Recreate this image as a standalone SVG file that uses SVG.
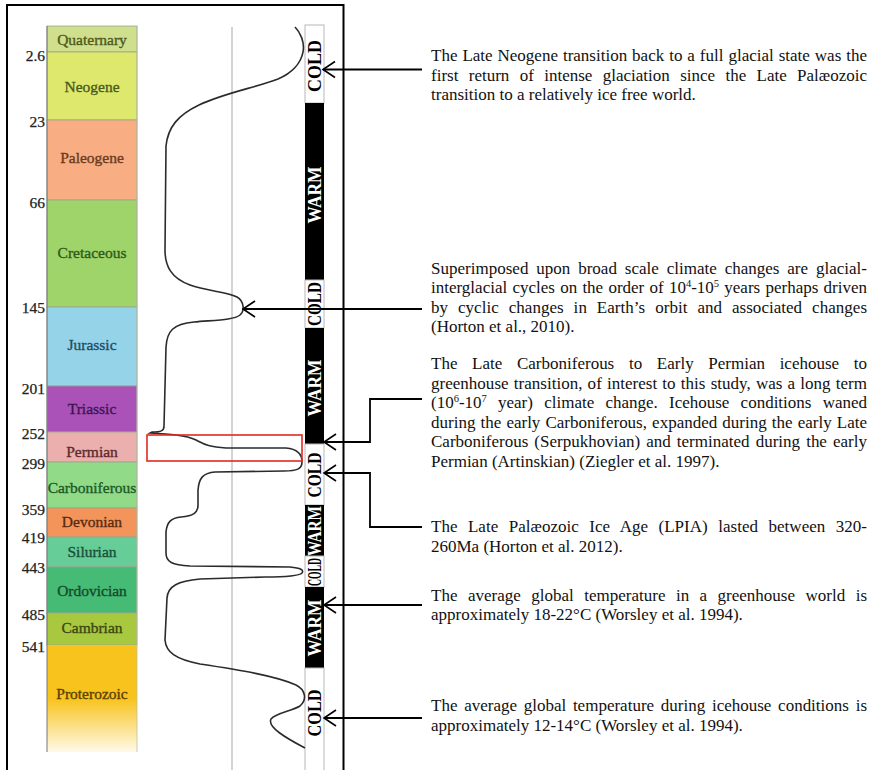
<svg xmlns="http://www.w3.org/2000/svg" width="876" height="770" viewBox="0 0 876 770">
<defs>
<style>
.per{stroke:#9aa58a;stroke-width:0.8}
.pl{font-family:"Liberation Serif","Times New Roman",serif;font-size:15.5px;text-anchor:middle;stroke-width:0.35;paint-order:stroke}
.age{font-family:"Liberation Serif","Times New Roman",serif;font-size:15.5px;text-anchor:end;fill:#222;stroke:#222;stroke-width:0.25}
.note{font-family:"Liberation Serif","Times New Roman",serif;font-size:17px;fill:#111}
.sup{font-size:10.5px}
.cold{fill:#fff;stroke:#b8b8b8;stroke-width:1}
.warm{fill:#000}
.bl{font-family:"Liberation Serif","Times New Roman",serif;font-weight:bold;font-size:18px;text-anchor:middle}
.conn{fill:none;stroke:#000;stroke-width:1.8}
</style>
<linearGradient id="prot" x1="0" y1="0" x2="0" y2="1">
<stop offset="0" stop-color="#f8c31c"/>
<stop offset="0.5" stop-color="#f8c31c"/>
<stop offset="1" stop-color="#fffaea"/>
</linearGradient>
<marker id="arr" markerWidth="16" markerHeight="20" refX="14" refY="10" orient="auto" markerUnits="userSpaceOnUse" viewBox="0 0 16 20">
<path d="M2,2 L14,10 L2,18" fill="none" stroke="#000" stroke-width="1.6"/>
</marker>
</defs>
<rect width="876" height="770" fill="#fff"/>

<g id="frame">
<path d="M7,770 V5 H343.5 V770" fill="none" stroke="#000" stroke-width="2"/>
<line x1="232" y1="27" x2="232" y2="770" stroke="#c4c4c4" stroke-width="1.5"/>
</g>

<g id="timescale">
<g id="quaternary"><rect class="per" x="47" y="26" width="90" height="26" fill="#cfdf8e"/><text class="pl" x="92" y="45" fill="#4b5a1b" stroke="#4b5a1b">Quaternary</text></g>
<g id="neogene"><rect class="per" x="47" y="52" width="90" height="68" fill="#dde86c"/><text class="pl" x="92" y="92" fill="#4a5a20" stroke="#4a5a20">Neogene</text></g>
<g id="paleogene"><rect class="per" x="47" y="120" width="90" height="80" fill="#f8ad83"/><text class="pl" x="92" y="163" fill="#6a3b1e" stroke="#6a3b1e">Paleogene</text></g>
<g id="cretaceous"><rect class="per" x="47" y="200" width="90" height="107" fill="#9fd46b"/><text class="pl" x="92" y="258" fill="#2e5a18" stroke="#2e5a18">Cretaceous</text></g>
<g id="jurassic"><rect class="per" x="47" y="307" width="90" height="79" fill="#95d3e8"/><text class="pl" x="92" y="350" fill="#214e5e" stroke="#214e5e">Jurassic</text></g>
<g id="triassic"><rect class="per" x="47" y="386" width="90" height="46" fill="#ab52b8"/><text class="pl" x="92" y="414" fill="#3d1550" stroke="#3d1550">Triassic</text></g>
<g id="permian"><rect class="per" x="47" y="432" width="90" height="30" fill="#ebb0ae"/><text class="pl" x="92" y="457" fill="#5c2b2b" stroke="#5c2b2b">Permian</text></g>
<g id="carboniferous"><rect class="per" x="47" y="462" width="90" height="46" fill="#90da88"/><text class="pl" x="92" y="493" fill="#1c5a25" stroke="#1c5a25">Carboniferous</text></g>
<g id="devonian"><rect class="per" x="47" y="508" width="90" height="29" fill="#f3955b"/><text class="pl" x="92" y="527" fill="#5a2b0e" stroke="#5a2b0e">Devonian</text></g>
<g id="silurian"><rect class="per" x="47" y="537" width="90" height="30" fill="#66cc98"/><text class="pl" x="92" y="557" fill="#17503a" stroke="#17503a">Silurian</text></g>
<g id="ordovician"><rect class="per" x="47" y="567" width="90" height="46" fill="#45bb75"/><text class="pl" x="92" y="596" fill="#154a2a" stroke="#154a2a">Ordovician</text></g>
<g id="cambrian"><rect class="per" x="47" y="613" width="90" height="32" fill="#a8c840"/><text class="pl" x="92" y="633" fill="#3b4710" stroke="#3b4710">Cambrian</text></g>
<g id="proterozoic"><rect x="47" y="645" width="90" height="107" fill="url(#prot)"/><text class="pl" x="92" y="699" fill="#5c3f05" stroke="#5c3f05">Proterozoic</text></g>
<line x1="47" y1="26" x2="47" y2="752" stroke="#777" stroke-width="1"/>
<line x1="137" y1="26" x2="137" y2="752" stroke="#b8c0a8" stroke-width="0.8"/>
</g>

<g id="ages">
<text class="age" x="45" y="61">2.6</text>
<text class="age" x="45" y="127">23</text>
<text class="age" x="45" y="208">66</text>
<text class="age" x="45" y="313">145</text>
<text class="age" x="45" y="394">201</text>
<text class="age" x="45" y="439">252</text>
<text class="age" x="45" y="469">299</text>
<text class="age" x="45" y="515">359</text>
<text class="age" x="45" y="543">419</text>
<text class="age" x="45" y="573">443</text>
<text class="age" x="45" y="620">485</text>
<text class="age" x="45" y="652">541</text>
</g>

<g id="climate-bar">
<g id="cold1"><rect class="cold" x="305" y="25" width="19" height="78"/><text class="bl" transform="translate(320.5,66) rotate(-90)" textLength="52" lengthAdjust="spacingAndGlyphs">COLD</text></g>
<g id="warm2"><rect class="warm" x="305" y="103" width="19" height="177"/><text class="bl" fill="#fff" transform="translate(320.5,195) rotate(-90)" textLength="57" lengthAdjust="spacingAndGlyphs">WARM</text></g>
<g id="cold3"><rect class="cold" x="305" y="280" width="19" height="48"/><text class="bl" transform="translate(320.5,304) rotate(-90)" textLength="44" lengthAdjust="spacingAndGlyphs">COLD</text></g>
<g id="warm4"><rect class="warm" x="305" y="328" width="19" height="116"/><text class="bl" fill="#fff" transform="translate(320.5,388) rotate(-90)" textLength="57" lengthAdjust="spacingAndGlyphs">WARM</text></g>
<g id="cold5"><rect class="cold" x="305" y="444" width="19" height="61"/><text class="bl" transform="translate(320.5,475) rotate(-90)" textLength="45" lengthAdjust="spacingAndGlyphs">COLD</text></g>
<g id="warm6"><rect class="warm" x="305" y="505" width="19" height="51"/><text class="bl" fill="#fff" transform="translate(320.5,531) rotate(-90)" textLength="50" lengthAdjust="spacingAndGlyphs">WARM</text></g>
<g id="cold7"><rect class="cold" x="305" y="556" width="19" height="31"/><text class="bl" transform="translate(320.5,572) rotate(-90)" textLength="28" lengthAdjust="spacingAndGlyphs">COLD</text></g>
<g id="warm8"><rect class="warm" x="305" y="587" width="19" height="81"/><text class="bl" fill="#fff" transform="translate(320.5,628) rotate(-90)" textLength="57" lengthAdjust="spacingAndGlyphs">WARM</text></g>
<g id="cold9"><rect class="cold" x="305" y="668" width="19" height="104"/><text class="bl" transform="translate(320.5,713) rotate(-90)" textLength="47" lengthAdjust="spacingAndGlyphs">COLD</text></g>
</g>

<g id="curve">
<path d="M295,27 C300,32 305,42 303,52 C301,63 292,73 278,79 C258,87 224,93 199,105 C178,115 168,127 166,146 L165,250 C165,266 171,278 190,285 C207,291 228,292 237,297 C244,301 245,311 240,315 C234,320 216,320 194,322 C173,324 167,331 166,347 L164,426 C164,431 161,432 152,432 L150,433 C168,434 186,435 196,440 C204,444 208,447 226,448 L286,448 C298,449 302,455 302,462 C302,469 297,471 284,471 L215,472 C203,473 199,478 198,490 L198,505 C198,513 193,516 181,517 C171,518 167,522 166,532 L166,553 C166,562 172,565 190,566 L290,567 C301,568 304,570 302,573 C299,576 288,577 265,577 L200,579 C178,581 168,586 167,598 L165,640 C166,652 175,659 200,664 C240,670 276,676 296,685 C306,690 307,700 300,706 C292,711 276,713 271,719 C267,727 286,738 305,748" fill="none" stroke="#2b2b2b" stroke-width="1.6"/>
</g>

<g id="highlight">
<rect x="147" y="435" width="155" height="26" fill="none" stroke="#e02a1f" stroke-width="1.6"/>
</g>

<g id="connectors">
<path class="conn" d="M422,69.5 H323" marker-end="url(#arr)"/>
<path class="conn" d="M422,309 H243" marker-end="url(#arr)"/>
<path class="conn" d="M422,399 H370 V442 H324" marker-end="url(#arr)"/>
<path class="conn" d="M422,527 H370 V473 H324" marker-end="url(#arr)"/>
<path class="conn" d="M422,605 H324" marker-end="url(#arr)"/>
<path class="conn" d="M422,718 H324" marker-end="url(#arr)"/>
</g>

<g id="note1">
<text class="note" x="431" y="60.5" word-spacing="0.7" textLength="436" lengthAdjust="spacing">The Late Neogene transition back to a full glacial state was the</text>
<text class="note" x="431" y="80.5" word-spacing="6.1" textLength="436" lengthAdjust="spacing">first return of intense glaciation since the Late Palæozoic</text>
<text class="note" x="431" y="100">transition to a relatively ice free world.</text>
</g>

<g id="note2">
<text class="note" x="431" y="273.5" word-spacing="3.6" textLength="436" lengthAdjust="spacing">Superimposed upon broad scale climate changes are glacial-</text>
<text class="note" x="431" y="293" word-spacing="1" textLength="436" lengthAdjust="spacing">interglacial cycles on the order of 10<tspan class="sup" dy="-6">4</tspan><tspan dy="6">-10</tspan><tspan class="sup" dy="-6">5</tspan><tspan dy="6"> years perhaps driven</tspan></text>
<text class="note" x="431" y="312.5" word-spacing="5.7" textLength="436" lengthAdjust="spacing">by cyclic changes in Earth’s orbit and associated changes</text>
<text class="note" x="431" y="332">(Horton et al., 2010).</text>
</g>

<g id="note3">
<text class="note" x="431" y="369" word-spacing="10.4" textLength="436" lengthAdjust="spacing">The Late Carboniferous to Early Permian icehouse to</text>
<text class="note" x="431" y="388.5" word-spacing="0.9" textLength="436" lengthAdjust="spacing">greenhouse transition, of interest to this study, was a long term</text>
<text class="note" x="431" y="408" word-spacing="7" textLength="436" lengthAdjust="spacing">(10<tspan class="sup" dy="-6">6</tspan><tspan dy="6">-10</tspan><tspan class="sup" dy="-6">7</tspan><tspan dy="6"> year) climate change. Icehouse conditions waned</tspan></text>
<text class="note" x="431" y="427.5" word-spacing="0.85" textLength="436" lengthAdjust="spacing">during the early Carboniferous, expanded during the early Late</text>
<text class="note" x="431" y="447" word-spacing="1.85" textLength="436" lengthAdjust="spacing">Carboniferous (Serpukhovian) and terminated during the early</text>
<text class="note" x="431" y="466.5">Permian (Artinskian) (Ziegler et al. 1997).</text>
</g>

<g id="note4">
<text class="note" x="431" y="532" word-spacing="6.2" textLength="436" lengthAdjust="spacing">The Late Palæozoic Ice Age (LPIA) lasted between 320-</text>
<text class="note" x="431" y="551.5">260Ma (Horton et al. 2012).</text>
</g>

<g id="note5">
<text class="note" x="431" y="600.5" word-spacing="6.2" textLength="436" lengthAdjust="spacing">The average global temperature in a greenhouse world is</text>
<text class="note" x="431" y="620">approximately 18-22°C (Worsley et al. 1994).</text>
</g>

<g id="note6">
<text class="note" x="431" y="711" word-spacing="2.45" textLength="436" lengthAdjust="spacing">The average global temperature during icehouse conditions is</text>
<text class="note" x="431" y="730.5">approximately 12-14°C (Worsley et al. 1994).</text>
</g>
</svg>
